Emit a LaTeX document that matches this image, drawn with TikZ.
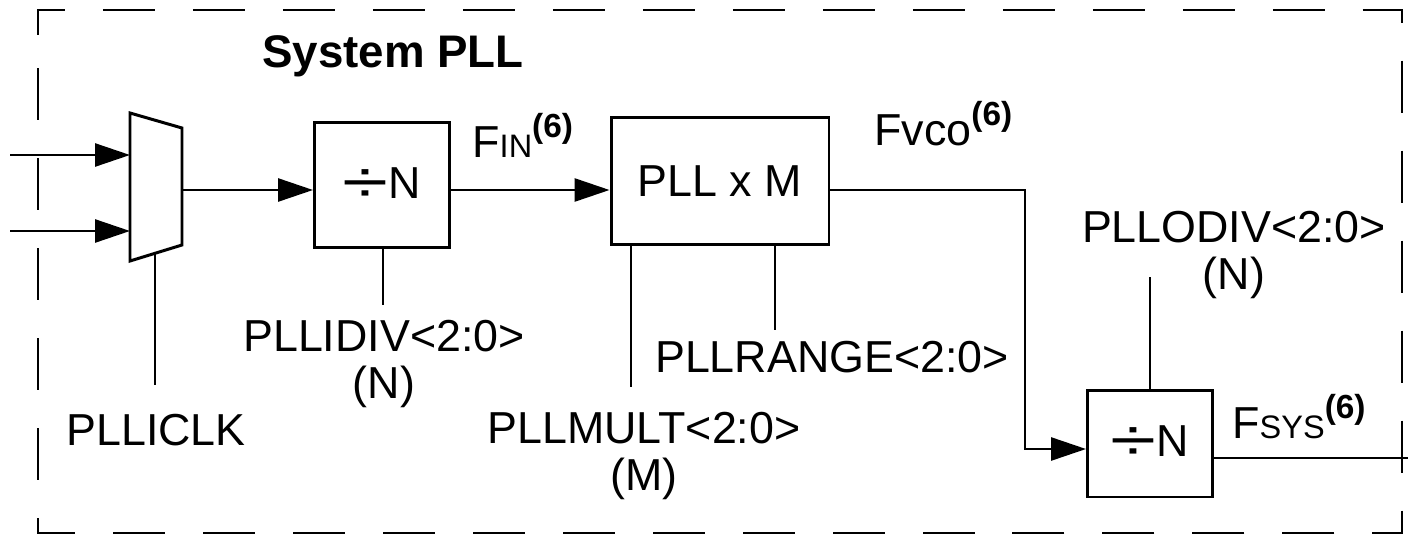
\documentclass[tikz,border=0pt]{standalone}
\usepackage{fontspec}
\setmainfont{Liberation Sans}
\usetikzlibrary{arrows.meta}
\newcommand{\smc}[1]{{\fontsize{18.5}{18.5}\selectfont #1}}
\newcommand{\fsix}{\raisebox{11pt}{\fontsize{19}{19}\selectfont\bfseries (6)}}
\newcommand{\divsign}{\raisebox{-2.3pt}{\scalebox{1.7}[1.2]{\fontsize{28}{28}\selectfont ÷}}}
\tikzset{
  blk/.style={draw,line width=1.7pt,inner sep=0pt},
  lbl/.style={font=\fontsize{25.5}{27}\selectfont,align=center,inner sep=0pt},
  ttl/.style={font=\fontsize{26}{27}\selectfont\bfseries,inner sep=0pt},
  wire/.style={line width=1.5pt},
  sig/.style={wire,-{Triangle[length=0.7cm,width=0.46cm]}},
  frame/.style={line width=1.5pt,dash pattern=on 1.04cm off 0.76cm}
}
\begin{document}
\begin{tikzpicture}[x=0.02cm,y=-0.02cm]
    \useasboundingbox (0,0) rectangle (1408,537);
    % dashed frame
    \draw[frame] (38,35) -- (38,10) -- (1402,10) -- (1402,533) -- (38,533) -- cycle;
    \node[ttl,anchor=base west] (title) at (262,68) {System PLL};
    % input mux
    \coordinate (M1) at (130,113);
    \coordinate (M2) at (182,128);
    \coordinate (M3) at (182,245);
    \coordinate (M4) at (130,261);
    \draw[blk] (M1) -- (M2) -- (M3) -- (M4) -- cycle;
    \coordinate (ina) at (10,155);
    \coordinate (inb) at (10,231);
    \coordinate (muxout) at (182,190);
    \coordinate (sel) at (155,253);
    \coordinate (selend) at (155,385);
    % blocks
    \node[blk,lbl,minimum width=2.7cm,minimum height=2.5cm] (div1) at (382,185) {\divsign N};
    \node[blk,lbl,minimum width=4.36cm,minimum height=2.56cm] (pll) at (720,181) {PLL x M};
    \node[blk,lbl,minimum width=2.5cm,minimum height=2.14cm] (div2) at (1150,443.5) {\divsign N};
    % labels
    \node[lbl] (clk) at (156,430) {PLLICLK};
    \node[lbl] (idiv) at (384,364) {PLLIDIV<2:0>\\(N)};
    \node[lbl] (mult) at (644,456) {PLLMULT<2:0>\\(M)};
    \node[lbl] (range) at (832,357.5) {PLLRANGE<2:0>};
    \node[lbl] (odiv) at (1234,255) {PLLODIV<2:0>\\(N)};
    \node[lbl,anchor=base west] (fin) at (472,157) {F\smc{IN}\fsix};
    \node[lbl,anchor=base west] (fvco) at (874,145) {Fvco\fsix};
    \node[lbl,anchor=base west] (fsys) at (1232,438) {F\smc{SYS}\fsix};
    % stub ends
    \coordinate (idivend) at (383,305);
    \coordinate (multend) at (631,387);
    \coordinate (rangeend) at (775,330);
    \coordinate (odivend) at (1150,277);
    \coordinate (tap) at (1025,190);
    \coordinate (out) at (1408,458);
    % signal path
    \draw[sig] (ina) -- (ina -| M1);
    \draw[sig] (inb) -- (inb -| M1);
    \draw[sig] (muxout) -- (muxout -| div1.west);
    \draw[sig] (muxout -| div1.east) -- (muxout -| pll.west);
    \draw[sig] (tap -| pll.east) -- (tap) |- ([yshift=-0.11cm]div2.west);
    \draw[wire] (out -| div2.east) -- (out);
    % control lines
    \draw[wire] (sel) -- (selend);
    \draw[wire] (div1.south -| idivend) -- (idivend);
    \draw[wire] (pll.south -| multend) -- (multend);
    \draw[wire] (pll.south -| rangeend) -- (rangeend);
    \draw[wire] (div2.north -| odivend) -- (odivend);
\end{tikzpicture}
\end{document}
